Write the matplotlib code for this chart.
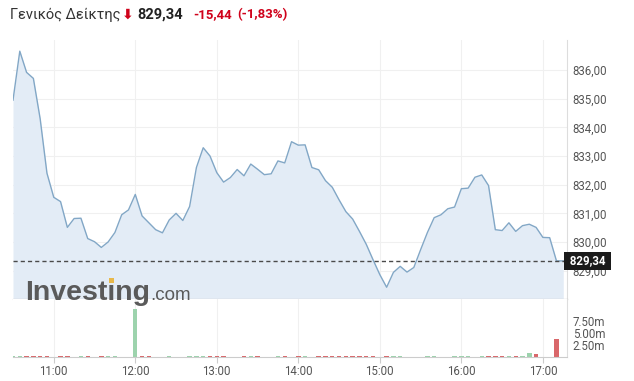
import matplotlib
matplotlib.use("Agg")
import matplotlib.pyplot as plt
import matplotlib.dates as mdates
import matplotlib.transforms as mtransforms
from matplotlib.patches import Rectangle
import pandas as pd

# ---------------- data ----------------
title_name = "Γενικός Δείκτης"
last_price_label = "829,34"
change_label = "-15,44"
change_pct_label = "(-1,83%)"
last_price = 829.34

start_time = "2024-01-01 10:30"
interval = "5min"

price = [834.95, 836.66, 835.92, 835.71, 834.30, 832.40, 831.56, 831.41, 830.51, 830.82,
         830.83, 830.12, 830.01, 829.81, 830.00, 830.33, 830.95, 831.12, 831.66, 830.91,
         830.67, 830.43, 830.32, 830.77, 831.00, 830.75, 831.24, 832.60, 833.29, 833.00,
         832.42, 832.09, 832.25, 832.53, 832.31, 832.72, 832.54, 832.35, 832.38, 832.83,
         832.76, 833.50, 833.38, 833.39, 832.60, 832.52, 832.14, 831.91, 831.47, 831.06,
         830.80, 830.37, 829.92, 829.38, 828.86, 828.42, 828.94, 829.15, 828.95, 829.11,
         829.73, 830.33, 830.85, 830.95, 831.16, 831.22, 831.86, 831.88, 832.26, 832.34,
         831.97, 830.43, 830.40, 830.67, 830.37, 830.57, 830.62, 830.51, 830.16, 830.15,
         829.34, 829.34]

# volume in millions
volume = [0.08, 0.07, 0.08, 0.07, 0.08, 0.07, 0.00, 0.07, 0.08, 0.00,
          0.07, 0.08, 0.00, 0.07, 0.08, 0.07, 0.00, 0.00, 9.90, 0.07,
          0.08, 0.00, 0.00, 0.07, 0.00, 0.00, 0.07, 0.08, 0.07, 0.08,
          0.07, 0.08, 0.00, 0.00, 0.07, 0.22, 0.08, 0.00, 0.00, 0.07,
          0.07, 0.00, 0.07, 0.08, 0.00, 0.07, 0.25, 0.08, 0.07, 0.08,
          0.07, 0.08, 0.07, 0.08, 0.00, 0.07, 0.08, 0.07, 0.00, 0.00,
          0.00, 0.07, 0.08, 0.00, 0.00, 0.07, 0.08, 0.07, 0.00, 0.07,
          0.08, 0.07, 0.08, 0.07, 0.08, 0.07, 0.70, 0.50, 0.00, 0.00,
          3.60, 0.00]

price_ticks = [829, 830, 831, 832, 833, 834, 835, 836]
volume_ticks = [2.5, 5.0, 7.5]
volume_tick_labels = ["2.50m", "5.00m", "7.50m"]

# ---------------- style ----------------
W, H, DPI = 634, 381, 100
LINE = "#82a7c6"
FILL = "#e3ecf6"
GRID = "#f0f0f0"
RED = "#d0021b"
GREEN_BAR = "#9dd3ad"
RED_BAR = "#d9676a"
TXT = "#555555"

plt.rcParams["font.family"] = ["Roboto", "DejaVu Sans"]

times = pd.date_range(start_time, periods=len(price), freq=interval)
step = pd.Timedelta(interval)

fig = plt.figure(figsize=(W / DPI, H / DPI), dpi=DPI)
fig.patch.set_facecolor("white")

L, R = 13 / W, 567 / W
ax = fig.add_axes([L, 1 - 299.3 / H, R - L, (299.3 - 40) / H])
axv = fig.add_axes([L, 1 - 356.7 / H, R - L, (356.7 - 299.3) / H], sharex=ax)

x0 = times[0]
x1 = times[0] + step * 81.55
ylo, yhi = 828.0, 837.05

# price panel
ax.set_ylim(ylo, yhi)
ax.fill_between(times, price, ylo, color=FILL, lw=0, zorder=1)
ax.plot(times, price, color=LINE, lw=1.0, zorder=2)
ax.axhline(last_price, color="#4a4a4a", lw=1.0, dashes=(3, 2.2), zorder=3)
ax.set_xlim(x0, x1)
ax.set_axisbelow(True)
ax.grid(True, color=GRID, lw=0.8)
ax.yaxis.tick_right()
ax.set_yticks(price_ticks)
ax.set_yticklabels([f"{v:.2f}".replace(".", ",") for v in price_ticks])
ax.tick_params(axis="y", length=0, pad=4.2, labelsize=8.3, labelcolor=TXT)
ax.tick_params(axis="x", length=0, labelbottom=False)
for s in ("top", "left"):
    ax.spines[s].set_visible(False)
ax.spines["right"].set_color("#dddddd")
ax.spines["bottom"].set_color("#c4c4c4")
ax.spines["right"].set_linewidth(0.8)
ax.spines["bottom"].set_linewidth(0.9)

trans = mtransforms.blended_transform_factory(ax.transAxes, ax.transData)
ax.text(1.0, last_price, " " + last_price_label + " ", transform=trans, ha="left",
        va="center", color="white", fontsize=8.3, fontweight="bold", zorder=10,
        clip_on=False,
        bbox=dict(boxstyle="square,pad=0.22", fc="#1b1b1b", ec="none"))

# volume panel
bar_colors = [GREEN_BAR] + [GREEN_BAR if price[i] >= price[i - 1] else RED_BAR
                            for i in range(1, len(price))]
axv.bar(times, volume, width=step * 0.65, color=bar_colors, zorder=2)
axv.set_ylim(0, 12)
axv.set_axisbelow(True)
axv.grid(True, axis="x", color=GRID, lw=0.8)
axv.yaxis.tick_right()
axv.set_yticks(volume_ticks)
axv.set_yticklabels(volume_tick_labels)
axv.tick_params(axis="y", length=0, pad=4.2, labelsize=8.3, labelcolor=TXT)
axv.xaxis.set_major_locator(mdates.HourLocator())
axv.xaxis.set_major_formatter(mdates.DateFormatter("%H:%M"))
axv.tick_params(axis="x", length=4, color="#cccccc", pad=2, labelsize=8.3,
                labelcolor=TXT)
for s in ("top", "left"):
    axv.spines[s].set_visible(False)
axv.spines["right"].set_color("#dddddd")
axv.spines["bottom"].set_color("#cccccc")
axv.spines["right"].set_linewidth(0.8)

# title
ty = 1 - 15 / H
fig.text(10 / W, ty, title_name, ha="left", va="center", fontsize=10.5, color="#333333")
fig.text(121.5 / W, ty, "⬇", ha="left", va="center", fontsize=10, color=RED,
         family=["DejaVu Sans"], fontweight="bold")
fig.text(137 / W, ty, last_price_label, ha="left", va="center", fontsize=10.5,
         fontweight="bold", color="#222222")
fig.text(193 / W, ty, change_label, ha="left", va="center", fontsize=9.5,
         fontweight="bold", color=RED)
fig.text(237 / W, ty, change_pct_label, ha="left", va="center", fontsize=9.5,
         fontweight="bold", color=RED)

# watermark logo
by = 1 - 299.5 / H
logo_kw = dict(fontsize=20.5, fontweight="bold", family=["Liberation Sans"])
t_logo = fig.text(25 / W, by, "Investıng", ha="left", va="baseline",
                  color="#5a5a5a", zorder=20, **logo_kw)
rend = fig.canvas.get_renderer()
bb_full = t_logo.get_window_extent(rend)
t_tmp = fig.text(25 / W, by, "Invest", ha="left", va="baseline", **logo_kw)
w_pre = t_tmp.get_window_extent(rend).width
t_tmp2 = fig.text(25 / W, by, "Investı", ha="left", va="baseline", **logo_kw)
w_pre2 = t_tmp2.get_window_extent(rend).width
t_tmp.remove()
t_tmp2.remove()
cx = bb_full.x0 + (w_pre + w_pre2) / 2.0
fig.text((bb_full.x1 + 0.5) / W, by, ".com", ha="left", va="baseline", fontsize=13.5,
         color="#5a5a5a", family=["Liberation Sans"], zorder=20)
dot = 5.0
fig.patches.append(Rectangle(((cx - dot / 2) / W, 1 - 282.7 / H), dot / W, dot / H,
                             transform=fig.transFigure, fc="#e8b84a", ec="none",
                             zorder=21))

fig.savefig("out.png", dpi=DPI, facecolor="white")
